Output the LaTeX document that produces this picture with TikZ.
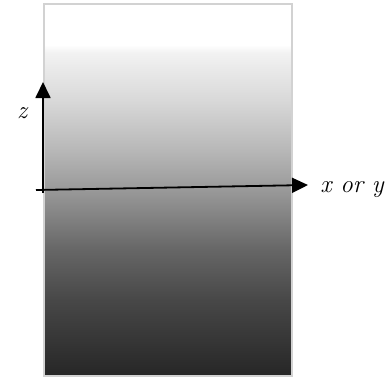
\documentclass[tikz,border=0pt]{standalone}
\usetikzlibrary{arrows.meta}
\definecolor{gA}{gray}{0.15}
\definecolor{gB}{gray}{0.28}
\definecolor{gC}{gray}{0.40}
\definecolor{gD}{gray}{0.60}
\definecolor{gE}{gray}{0.72}
\definecolor{gF}{gray}{0.85}
\definecolor{gG}{gray}{0.95}
\definecolor{gH}{gray}{1.0}
\pgfdeclareverticalshading{panel}{100bp}{color(0bp)=(gA); color(25bp)=(gA); color(35.2bp)=(gB); color(41.95bp)=(gC); color(50bp)=(gD); color(55.4bp)=(gE); color(62.1bp)=(gF); color(68.5bp)=(gG); color(69.5bp)=(gH); color(100bp)=(gH)}
\tikzset{
  axis/.style={line width=1.8pt, -{Triangle[length=16pt,width=15pt]}},
  lbl/.style={font=\itshape\fontsize{25}{29}\selectfont, inner sep=0pt}
}
\begin{document}
\begin{tikzpicture}[x=1pt,y=-1pt]
\useasboundingbox (0,0) rectangle (388,381);
\shade[shading=panel, draw=gray!35, line width=1.2pt] (44,4) rectangle (292,376);
\coordinate (hstart) at (36,190);
\coordinate (vstart) at (43,193);
\coordinate (ztip) at (43,82);
\coordinate (xtip) at (308,185);
\draw[axis] (vstart) -- (ztip);
\draw[axis] (hstart) -- (xtip);
\node[lbl] (zl) at (22,113) {z};
\node[lbl] (xl) at (352,190) {x or y};
\end{tikzpicture}
\end{document}
